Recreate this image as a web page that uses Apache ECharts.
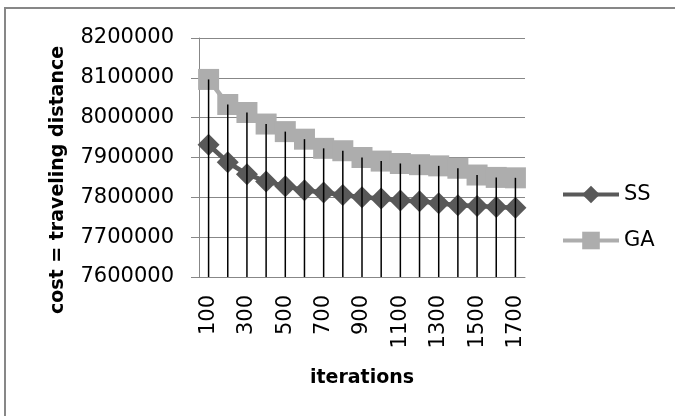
<!DOCTYPE html>
<html>
<head>
<meta charset="utf-8">
<script src="https://cdn.jsdelivr.net/npm/echarts@6/dist/echarts.min.js"></script>
<style>
  html, body { margin: 0; padding: 0; background: #fff; overflow: hidden; }
  #chart { width: 675px; height: 416px; }
</style>
</head>
<body>
<div id="chart"></div>
<script>
// Iteration counts on the category axis
const iterations = ['100', '200', '300', '400', '500', '600', '700', '800', '900',
  '1000', '1100', '1200', '1300', '1400', '1500', '1600', '1700'];

// Cost (traveling distance) per method
const ssCost = [7932000, 7888000, 7858000, 7840000, 7828000, 7818000, 7812000, 7806000, 7800000,
  7797000, 7792000, 7790000, 7785000, 7780000, 7778000, 7776000, 7774000];
const gaCost = [8096000, 8033000, 8013000, 7984000, 7965000, 7946000, 7923000, 7917000, 7900000,
  7891000, 7885000, 7882000, 7879000, 7873000, 7856000, 7850000, 7849000];

// Value axis range
const yMin = 7600000;
const yMax = 8200000;
const yStep = 100000;

// Drop lines run from the higher of the two points down to the axis floor
const dropTops = iterations.map((_, i) => [i, Math.max(ssCost[i], gaCost[i])]);

const FONT = 'DejaVu Sans';
const GRID_GRAY = '#878787';

const chart = echarts.init(document.getElementById('chart'), null, { renderer: 'canvas' });

chart.setOption({
  backgroundColor: '#ffffff',
  animation: false,
  grid: { left: 199, right: 150, top: 38, bottom: 139 },
  legend: {
    data: ['SS', 'GA'],
    orient: 'vertical',
    left: 556,
    top: 179,
    itemWidth: 56,
    itemHeight: 22,
    itemGap: 25,
    lineStyle: { width: 4 },
    textStyle: { fontFamily: FONT, fontSize: 21, color: '#000' }
  },
  xAxis: {
    type: 'category',
    data: iterations,
    boundaryGap: true,
    name: 'iterations',
    nameLocation: 'middle',
    nameGap: 92,
    nameTextStyle: { fontFamily: FONT, fontSize: 19, fontWeight: 'bold', color: '#000' },
    axisLine: { lineStyle: { color: GRID_GRAY, width: 1 } },
    axisTick: { show: false },
    axisLabel: {
      interval: 1,
      rotate: 90,
      margin: 18,
      fontFamily: FONT,
      fontSize: 21,
      color: '#000'
    },
    splitLine: { show: false }
  },
  yAxis: {
    type: 'value',
    min: yMin,
    max: yMax,
    interval: yStep,
    axisLine: { show: true, lineStyle: { color: GRID_GRAY, width: 1 } },
    axisTick: { show: true, length: 8, lineStyle: { color: GRID_GRAY } },
    axisLabel: {
      margin: 25,
      fontFamily: FONT,
      fontSize: 21,
      color: '#000',
      formatter: (v) => String(v)
    },
    splitLine: { show: true, lineStyle: { color: GRID_GRAY, width: 1 } }
  },
  graphic: [
    // Chart-area frame: top and left edges
    {
      type: 'line',
      shape: { x1: 4, y1: 8, x2: 675, y2: 8 },
      style: { stroke: GRID_GRAY, lineWidth: 2 },
      silent: true
    },
    {
      type: 'line',
      shape: { x1: 5, y1: 7, x2: 5, y2: 416 },
      style: { stroke: GRID_GRAY, lineWidth: 2 },
      silent: true
    },
    {
      type: 'text',
      x: 58,
      y: 180,
      rotation: Math.PI / 2,
      style: {
        text: 'cost = traveling distance',
        fontFamily: FONT,
        fontSize: 19,
        fontWeight: 'bold',
        fill: '#000',
        align: 'center',
        verticalAlign: 'middle'
      }
    }
  ],
  series: [
    {
      name: 'SS',
      type: 'line',
      data: ssCost,
      z: 2,
      symbol: 'diamond',
      symbolSize: 22,
      showAllSymbol: true,
      lineStyle: { color: '#595959', width: 4.5 },
      itemStyle: { color: '#595959', borderWidth: 0 }
    },
    {
      name: 'GA',
      type: 'line',
      data: gaCost,
      z: 2,
      symbol: 'rect',
      symbolSize: 21,
      showAllSymbol: true,
      lineStyle: { color: '#adadad', width: 4.5 },
      itemStyle: { color: '#adadad', borderWidth: 0 }
    },
    {
      name: 'drop',
      type: 'custom',
      z: 5,
      data: dropTops,
      renderItem: function (params, api) {
        const top = api.coord([api.value(0), api.value(1)]);
        const bottom = api.coord([api.value(0), yMin]);
        return {
          type: 'line',
          shape: { x1: top[0], y1: top[1], x2: bottom[0], y2: bottom[1] },
          style: { stroke: '#000', lineWidth: 1.5 }
        };
      }
    }
  ]
});
</script>
</body>
</html>
